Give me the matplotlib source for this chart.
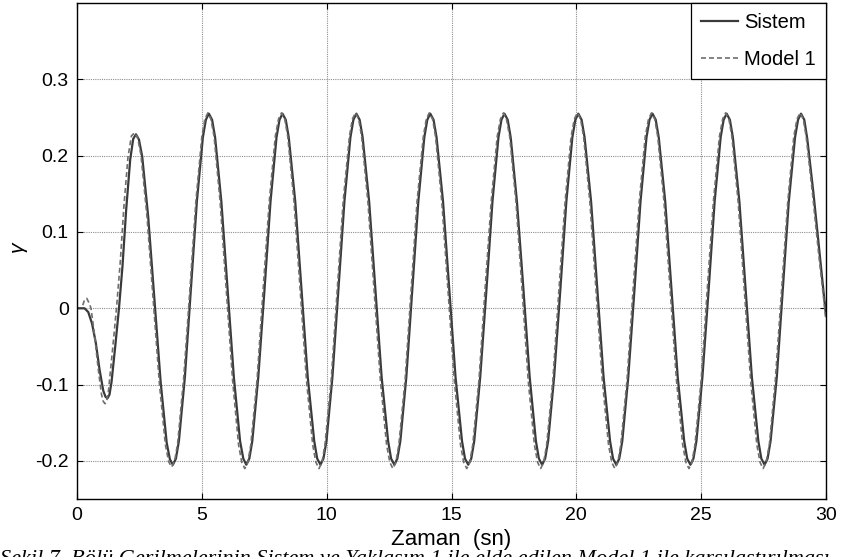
import matplotlib
matplotlib.use("Agg")
import matplotlib.pyplot as plt

plt.rcParams['font.family'] = ['Liberation Sans', 'DejaVu Sans']
plt.rcParams['axes.unicode_minus'] = False

# zaman (sn) ve gamma degerleri - Sistem
t_sistem = [0.0, 0.30, 0.45, 0.60, 0.75, 0.90, 1.05, 1.14, 1.22, 1.30, 1.38, 1.53, 1.68, 1.82, 1.97, 2.13, 2.25, 2.36,
            2.48, 2.61, 2.85, 3.10, 3.35, 3.59, 3.72, 3.84,
            3.96, 4.08, 4.32, 4.56, 4.80, 5.04, 5.16, 5.28,
            5.41, 5.53, 5.78, 6.03, 6.28, 6.53, 6.66, 6.78,
            6.90, 7.02, 7.26, 7.51, 7.75, 7.99, 8.11, 8.23,
            8.36, 8.48, 8.74, 8.99, 9.24, 9.50, 9.62, 9.75,
            9.87, 9.99, 10.23, 10.47, 10.71, 10.95, 11.07, 11.19,
            11.32, 11.44, 11.70, 11.95, 12.20, 12.46, 12.58, 12.71,
            12.83, 12.95, 13.19, 13.43, 13.67, 13.91, 14.03, 14.15,
            14.28, 14.40, 14.66, 14.91, 15.16, 15.42, 15.54, 15.67,
            15.79, 15.91, 16.15, 16.40, 16.64, 16.88, 17.00, 17.12,
            17.25, 17.37, 17.62, 17.88, 18.13, 18.38, 18.50, 18.63,
            18.75, 18.87, 19.11, 19.36, 19.60, 19.84, 19.96, 20.08,
            20.21, 20.33, 20.59, 20.84, 21.09, 21.35, 21.47, 21.60,
            21.72, 21.84, 22.08, 22.33, 22.57, 22.81, 22.93, 23.05,
            23.18, 23.30, 23.56, 23.81, 24.06, 24.32, 24.44, 24.57,
            24.69, 24.81, 25.05, 25.30, 25.54, 25.78, 25.90, 26.02,
            26.15, 26.27, 26.53, 26.78, 27.03, 27.29, 27.41, 27.54,
            27.66, 27.78, 28.03, 28.27, 28.51, 28.76, 28.88, 29.00,
            29.13, 29.25, 29.50, 29.75, 30.00]
y_sistem = [0.0, 0.0, -0.005, -0.02, -0.045, -0.08, -0.108, -0.116, -0.118, -0.113, -0.097, -0.05, 0.0, 0.055, 0.13, 0.195, 0.222, 0.228,
            0.221, 0.199, 0.120, 0.012, -0.097, -0.176, -0.198, -0.205,
            -0.197, -0.174, -0.090, 0.025, 0.140, 0.224, 0.247, 0.255,
            0.247, 0.224, 0.140, 0.025, -0.090, -0.174, -0.197, -0.205,
            -0.197, -0.174, -0.090, 0.025, 0.140, 0.224, 0.247, 0.255,
            0.247, 0.224, 0.140, 0.025, -0.090, -0.174, -0.197, -0.205,
            -0.197, -0.174, -0.090, 0.025, 0.140, 0.224, 0.247, 0.255,
            0.247, 0.224, 0.140, 0.025, -0.090, -0.174, -0.197, -0.205,
            -0.197, -0.174, -0.090, 0.025, 0.140, 0.224, 0.247, 0.255,
            0.247, 0.224, 0.140, 0.025, -0.090, -0.174, -0.197, -0.205,
            -0.197, -0.174, -0.090, 0.025, 0.140, 0.224, 0.247, 0.255,
            0.247, 0.224, 0.140, 0.025, -0.090, -0.174, -0.197, -0.205,
            -0.197, -0.174, -0.090, 0.025, 0.140, 0.224, 0.247, 0.255,
            0.247, 0.224, 0.140, 0.025, -0.090, -0.174, -0.197, -0.205,
            -0.197, -0.174, -0.090, 0.025, 0.140, 0.224, 0.247, 0.255,
            0.247, 0.224, 0.140, 0.025, -0.090, -0.174, -0.197, -0.205,
            -0.197, -0.174, -0.090, 0.025, 0.140, 0.224, 0.247, 0.255,
            0.247, 0.224, 0.140, 0.025, -0.090, -0.174, -0.197, -0.205,
            -0.197, -0.174, -0.090, 0.025, 0.140, 0.224, 0.247, 0.255,
            0.247, 0.222, 0.150, 0.070, -0.010]

# Model 1
t_model = [0.23, 0.30, 0.39, 0.48, 0.56, 0.70, 0.85, 0.98, 1.05, 1.12, 1.19, 1.26, 1.42, 1.58, 1.73, 1.88, 2.04, 2.18, 2.31,
           2.43, 2.56, 2.80, 3.05, 3.30, 3.54, 3.67, 3.79,
           3.91, 4.03, 4.27, 4.52, 4.76, 5.00, 5.12, 5.24,
           5.36, 5.49, 5.73, 5.98, 6.23, 6.47, 6.60, 6.72,
           6.84, 6.96, 7.21, 7.45, 7.70, 7.94, 8.07, 8.19,
           8.32, 8.44, 8.69, 8.94, 9.19, 9.44, 9.57, 9.69,
           9.81, 9.93, 10.18, 10.42, 10.66, 10.91, 11.03, 11.15,
           11.28, 11.40, 11.65, 11.90, 12.15, 12.40, 12.53, 12.65,
           12.77, 12.89, 13.14, 13.38, 13.62, 13.87, 13.99, 14.11,
           14.24, 14.36, 14.61, 14.86, 15.11, 15.36, 15.49, 15.61,
           15.73, 15.85, 16.10, 16.34, 16.59, 16.83, 16.96, 17.08,
           17.20, 17.33, 17.58, 17.83, 18.07, 18.32, 18.45, 18.57,
           18.69, 18.81, 19.06, 19.30, 19.55, 19.79, 19.92, 20.04,
           20.17, 20.29, 20.54, 20.79, 21.04, 21.29, 21.42, 21.54,
           21.66, 21.78, 22.03, 22.27, 22.52, 22.76, 22.89, 23.01,
           23.14, 23.26, 23.51, 23.76, 24.01, 24.26, 24.39, 24.51,
           24.63, 24.75, 25.00, 25.24, 25.49, 25.73, 25.86, 25.98,
           26.11, 26.23, 26.48, 26.73, 26.98, 27.23, 27.36, 27.48,
           27.60, 27.73, 27.97, 28.22, 28.47, 28.71, 28.84, 28.96,
           29.09, 29.21, 29.46, 29.71, 30.00]
y_model = [0.004, 0.011, 0.013, 0.007, 0.0, -0.035, -0.08, -0.113, -0.122, -0.125, -0.121, -0.108, -0.055, 0.0, 0.06, 0.135, 0.198, 0.226, 0.230,
           0.223, 0.201, 0.121, 0.011, -0.099, -0.179, -0.201, -0.208,
           -0.200, -0.177, -0.092, 0.024, 0.140, 0.225, 0.248, 0.256,
           0.248, 0.225, 0.140, 0.023, -0.094, -0.179, -0.202, -0.210,
           -0.202, -0.179, -0.094, 0.023, 0.140, 0.225, 0.248, 0.256,
           0.248, 0.225, 0.140, 0.023, -0.094, -0.179, -0.202, -0.210,
           -0.202, -0.179, -0.094, 0.023, 0.140, 0.225, 0.248, 0.256,
           0.248, 0.225, 0.140, 0.023, -0.094, -0.179, -0.202, -0.210,
           -0.202, -0.179, -0.094, 0.023, 0.140, 0.225, 0.248, 0.256,
           0.248, 0.225, 0.140, 0.023, -0.094, -0.179, -0.202, -0.210,
           -0.202, -0.179, -0.094, 0.023, 0.140, 0.225, 0.248, 0.256,
           0.248, 0.225, 0.140, 0.023, -0.094, -0.179, -0.202, -0.210,
           -0.202, -0.179, -0.094, 0.023, 0.140, 0.225, 0.248, 0.256,
           0.248, 0.225, 0.140, 0.023, -0.094, -0.179, -0.202, -0.210,
           -0.202, -0.179, -0.094, 0.023, 0.140, 0.225, 0.248, 0.256,
           0.248, 0.225, 0.140, 0.023, -0.094, -0.179, -0.202, -0.210,
           -0.202, -0.179, -0.094, 0.023, 0.140, 0.225, 0.248, 0.256,
           0.248, 0.225, 0.140, 0.023, -0.094, -0.179, -0.202, -0.210,
           -0.202, -0.179, -0.094, 0.023, 0.140, 0.225, 0.248, 0.256,
           0.248, 0.224, 0.150, 0.070, -0.015]

x_ticks = [0, 5, 10, 15, 20, 25, 30]
y_ticks = [-0.2, -0.1, 0, 0.1, 0.2, 0.3]
y_ticklabels = ['-0.2', '-0.1', '0', '0.1', '0.2', '0.3']

fig = plt.figure(figsize=(8.42, 5.57), dpi=100)
ax = fig.add_axes([0.0915, 0.104, 0.8895, 0.8906])

ax.plot(t_sistem, y_sistem, color='#3a3a3a', lw=1.6, label='Sistem')
ax.plot(t_model, y_model, color='#6e6e6e', lw=1.2, dashes=(3, 1.8), label='Model 1')

ax.set_xlim(0, 30)
ax.set_ylim(-0.25, 0.4)
ax.set_xticks(x_ticks)
ax.set_yticks(y_ticks)
ax.set_yticklabels(y_ticklabels)
ax.tick_params(direction='in', top=True, right=True, labelsize=14, length=4, width=0.8, pad=6)
ax.grid(True, color='#8f8f8f', linestyle=(0, (1, 1)), lw=0.8)
for s in ax.spines.values():
    s.set_linewidth(1.0)

ax.set_xlabel('Zaman  (sn)', fontsize=16, labelpad=3)
fig.text(17 / 842, 1 - 247 / 557, 'γ', fontsize=15, style='italic', rotation=90,
         ha='center', va='center')

leg = ax.legend(loc='upper right', borderaxespad=0, fancybox=False, framealpha=1,
                edgecolor='black', fontsize=14.5, handlelength=1.85, handletextpad=0.3,
                borderpad=0.5, labelspacing=0.9)
leg.get_frame().set_linewidth(0.9)

# figure caption (partially below the image edge)
fig.text(0.0, -0.022, 'Şekil 7. Bölü Gerilmelerinin Sistem ve Yaklaşım 1 ile elde edilen Model 1 ile karşılaştırılması',
         family=['Liberation Serif', 'DejaVu Serif'], style='italic', fontsize=16, va='bottom', ha='left')

fig.savefig('out.png', dpi=100)
